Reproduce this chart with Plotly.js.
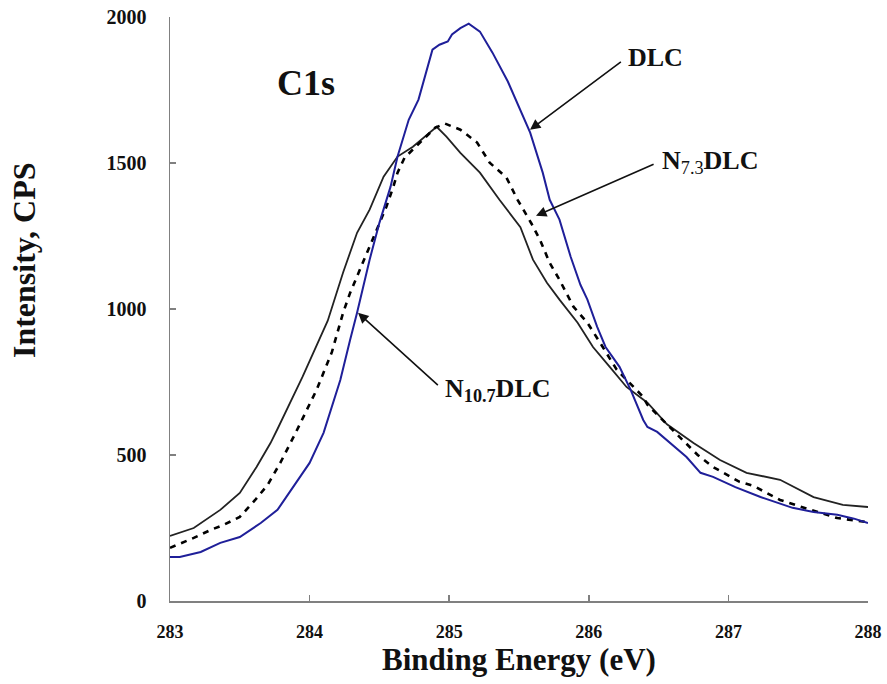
<!DOCTYPE html>
<html>
<head>
<meta charset="utf-8">
<script src="https://cdn.plot.ly/plotly-3.0.1.min.js"></script>
<style>html,body{margin:0;padding:0;background:#fff;}#chart{width:887px;height:684px;}</style>
</head>
<body>
<div id="chart"></div>
<script>
// Binding energy (eV) and intensity (CPS) for each sample
const dlcEnergy = [283.00, 283.07, 283.22, 283.36, 283.50, 283.65, 283.77, 283.88, 284.00, 284.10, 284.22, 284.29, 284.34, 284.43, 284.50, 284.58, 284.63, 284.71, 284.78, 284.88, 284.93, 284.99, 285.02, 285.08, 285.14, 285.22, 285.31, 285.42, 285.51, 285.58, 285.67, 285.72, 285.79, 285.87, 285.94, 285.99, 286.06, 286.12, 286.22, 286.30, 286.39, 286.42, 286.49, 286.60, 286.70, 286.80, 286.89, 287.05, 287.23, 287.46, 287.61, 287.78, 287.90, 288.00];
const dlcIntensity = [151, 151, 168, 199, 219, 267, 312, 387, 473, 576, 757, 894, 987, 1169, 1295, 1419, 1522, 1648, 1717, 1888, 1905, 1916, 1940, 1962, 1977, 1950, 1878, 1779, 1683, 1604, 1467, 1374, 1306, 1179, 1083, 1032, 939, 870, 802, 723, 620, 596, 579, 535, 493, 439, 425, 390, 356, 319, 305, 295, 282, 267];

const n73Energy = [283.00, 283.17, 283.29, 283.38, 283.50, 283.61, 283.70, 283.79, 283.90, 284.05, 284.16, 284.24, 284.29, 284.35, 284.43, 284.50, 284.55, 284.60, 284.63, 284.68, 284.90, 284.97, 285.08, 285.20, 285.29, 285.41, 285.49, 285.59, 285.65, 285.72, 285.79, 285.89, 285.99, 286.10, 286.20, 286.39, 286.42, 286.60, 286.78, 286.89, 287.08, 287.18, 287.37, 287.59, 287.78, 288.00];
const n73Intensity = [182, 216, 243, 260, 288, 346, 398, 473, 576, 723, 853, 987, 1055, 1124, 1213, 1295, 1350, 1419, 1467, 1518, 1621, 1635, 1614, 1570, 1501, 1450, 1374, 1292, 1237, 1158, 1100, 1008, 953, 870, 792, 699, 672, 586, 500, 459, 408, 394, 346, 312, 284, 270];

const n107Energy = [283.00, 283.17, 283.36, 283.50, 283.62, 283.72, 283.77, 283.95, 284.13, 284.24, 284.34, 284.43, 284.53, 284.63, 284.74, 284.86, 284.91, 284.98, 285.08, 285.22, 285.36, 285.51, 285.60, 285.70, 285.79, 285.92, 286.03, 286.15, 286.27, 286.42, 286.51, 286.56, 286.75, 286.94, 287.13, 287.37, 287.61, 287.82, 288.00];
const n107Intensity = [223, 250, 312, 370, 459, 541, 589, 768, 960, 1125, 1261, 1340, 1453, 1522, 1556, 1604, 1624, 1590, 1535, 1467, 1374, 1280, 1169, 1090, 1032, 953, 870, 802, 733, 679, 631, 605, 541, 483, 439, 415, 356, 329, 322];

const xTicks = [283, 284, 285, 286, 287, 288];
const yTicks = [0, 500, 1000, 1500, 2000];

const serif = 'Liberation Serif, Times New Roman, serif';

const traces = [
  {x: n107Energy, y: n107Intensity, type: 'scatter', mode: 'lines', name: 'N10.7DLC',
   line: {color: '#222222', width: 1.8}},
  {x: n73Energy, y: n73Intensity, type: 'scatter', mode: 'lines', name: 'N7.3DLC',
   line: {color: '#000000', width: 2.6, dash: '6px,6px'}},
  {x: dlcEnergy, y: dlcIntensity, type: 'scatter', mode: 'lines', name: 'DLC',
   line: {color: '#1f1f99', width: 2}}
];

// labelled arrows: text sits at (ax, ay), arrow points to (x, y)
const labelArrow = {showarrow: true, arrowhead: 2, arrowsize: 1.3, arrowwidth: 1.6, arrowcolor: '#111',
  startstandoff: 7, axref: 'x', ayref: 'y', xanchor: 'left', yanchor: 'middle',
  font: {family: serif, size: 26, color: '#111'}};

const layout = {
  width: 887, height: 684,
  margin: {l: 170, r: 19, t: 17, b: 83},
  paper_bgcolor: '#fff', plot_bgcolor: '#fff',
  showlegend: false,
  font: {family: serif, color: '#111'},
  xaxis: {
    range: [283, 288], tickvals: xTicks, ticktext: xTicks.map(String),
    showgrid: false, zeroline: false, showline: true, linecolor: '#808080', linewidth: 1.5,
    ticks: 'inside', ticklen: 6, tickcolor: '#808080', tickwidth: 1.5,
    ticklabelstandoff: 14,
    tickfont: {family: serif, size: 18, color: '#111', weight: 'bold'},
    title: {text: '<b>Binding Energy (eV)</b>', font: {family: serif, size: 31, color: '#111'}, standoff: 7}
  },
  yaxis: {
    range: [0, 2000], tickvals: yTicks, ticktext: yTicks.map(String),
    showgrid: false, zeroline: false, showline: true, linecolor: '#808080', linewidth: 1.5,
    ticks: 'inside', ticklen: 6, tickcolor: '#808080', tickwidth: 1.5,
    ticklabelstandoff: 18,
    tickfont: {family: serif, size: 20, color: '#111', weight: 'bold'}
  },
  annotations: [
    Object.assign({}, labelArrow, {x: 285.579, y: 1614, ax: 286.27, ay: 1861, text: '<b>DLC</b>'}),
    Object.assign({}, labelArrow, {x: 285.622, y: 1319, ax: 286.51, ay: 1505, text: '<b>N</b><sub>7.3</sub><b>DLC</b>'}),
    Object.assign({}, labelArrow, {x: 284.347, y: 987, ax: 284.956, ay: 723, text: '<b>N<sub>10.7</sub>DLC</b>'}),
    {showarrow: false, xanchor: 'left', yanchor: 'middle', x: 283.75, y: 1775, text: '<b>C1s</b>',
     font: {family: serif, size: 36, color: '#111'}},
    {showarrow: false, xref: 'paper', yref: 'paper', x: -0.209, y: 0.584, xanchor: 'center', yanchor: 'middle',
     textangle: -90, text: '<b>Intensity, CPS</b>', font: {family: serif, size: 32, color: '#111'}}
  ]
};

Plotly.newPlot('chart', traces, layout, {displayModeBar: false, staticPlot: true});
</script>
</body>
</html>
